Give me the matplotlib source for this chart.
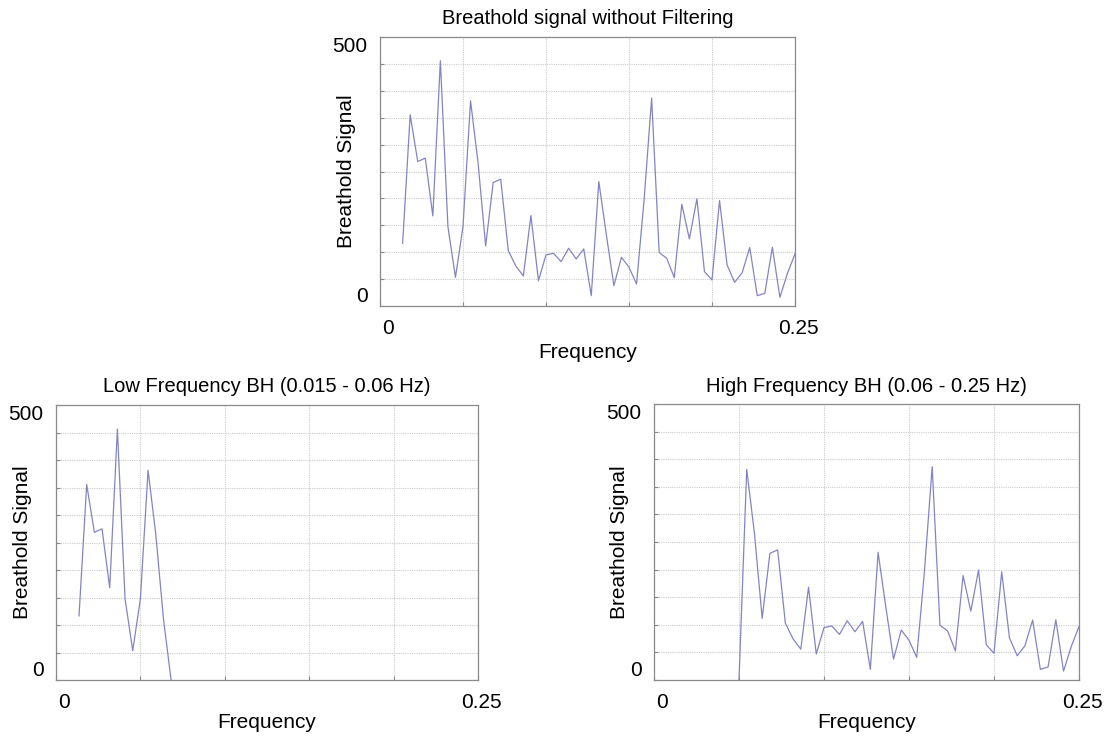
import numpy as np
import matplotlib.pyplot as plt
from matplotlib.transforms import ScaledTranslation

plt.rcParams['font.family'] = ['Liberation Sans', 'DejaVu Sans']

# frequency bins (k/220 Hz) and spectrum values
k = np.arange(3, 56)
freq = k / 220.0
bh = [116.6, 355.5, 268.6, 274.8, 167.5, 456.0, 147.6, 53.3, 147.6, 381.5,
      265.5, 111.7, 229.5, 235.7, 103.0, 74.4, 55.8, 168.1, 47.1, 94.9,
      98.0, 82.5, 107.3, 87.5, 106.1, 19.2, 231.4, 132.1, 37.8, 90.6,
      72.0, 40.9, 197.3, 386.5, 99.3, 88.7, 52.7, 189.2, 124.7, 199.1,
      63.9, 48.4, 196.0, 76.3, 44.0, 62.0, 108.6, 19.2, 23.6, 109.2,
      16.1, 60.8, 96.8]

# low band: bins 3..14 kept, bin 15 zero
lf_freq = np.arange(3, 16) / 220.0
lf_bh = bh[:12] + [0.0]
# high band: bin 11 zero, bins 12..55 kept
hf_freq = np.arange(11, 56) / 220.0
hf_bh = [0.0] + bh[9:]

line_col = '#8484c4'
W, H = 1119, 736
fig = plt.figure(figsize=(W / 100, H / 100), dpi=100)


def box(l, t, r, b):
    return [l / W, (H - b) / H, (r - l) / W, (b - t) / H]


def style(ax, title, wpx, hpx, xlab_off):
    ax.set_xlim(0, 0.25)
    ax.set_ylim(0, 500)
    ax.set_xticks(np.arange(0, 0.2501, 0.05))
    ax.set_xticklabels(['0', '', '', '', '', '0.25'])
    ax.set_yticks(np.arange(0, 501, 50))
    ax.set_yticklabels(['0'] + [''] * 9 + ['500'])
    ax.tick_params(direction='in', length=3, color='#888888', labelsize=15,
                   width=0.8)
    ax.tick_params(axis='x', pad=9)
    ax.tick_params(axis='y', pad=9)
    lbls = ax.get_yticklabels()
    lbls[0].set_va('bottom')
    lbls[-1].set_va('top')
    xl = ax.get_xticklabels()
    xl[0].set_transform(xl[0].get_transform() + ScaledTranslation(0.08, 0, fig.dpi_scale_trans))
    xl[-1].set_transform(xl[-1].get_transform() + ScaledTranslation(0.03, 0, fig.dpi_scale_trans))
    ax.grid(True, color='#cccccc', linestyle=(0, (1, 1)), linewidth=0.8)
    for s in ax.spines.values():
        s.set_color('#8a8a8a')
        s.set_linewidth(0.9)
    ax.set_title(title, fontsize=14.5, pad=9)
    ax.set_xlabel('Frequency', fontsize=15)
    ax.set_ylabel('Breathold Signal', fontsize=15)
    ax.xaxis.set_label_coords(0.5, -xlab_off / hpx)
    ax.yaxis.set_label_coords(-34 / wpx, 0.5)
    ax.yaxis.label.set_va('center')
    ax.xaxis.label.set_va('center')


ax1 = fig.add_axes(box(380, 37, 795, 306))
ax1.plot(freq, bh, color=line_col, linewidth=0.9)
style(ax1, 'Breathold signal without Filtering', 415, 269, 46)

ax2 = fig.add_axes(box(56, 405, 478, 680))
ax2.plot(lf_freq, lf_bh, color=line_col, linewidth=0.9)
style(ax2, 'Low Frequency BH (0.015 - 0.06 Hz)', 422, 275, 42)

ax3 = fig.add_axes(box(654, 404, 1079, 680))
ax3.plot(hf_freq, hf_bh, color=line_col, linewidth=0.9)
style(ax3, 'High Frequency BH (0.06 - 0.25 Hz)', 425, 276, 42)

plt.savefig('out.png', dpi=100)
